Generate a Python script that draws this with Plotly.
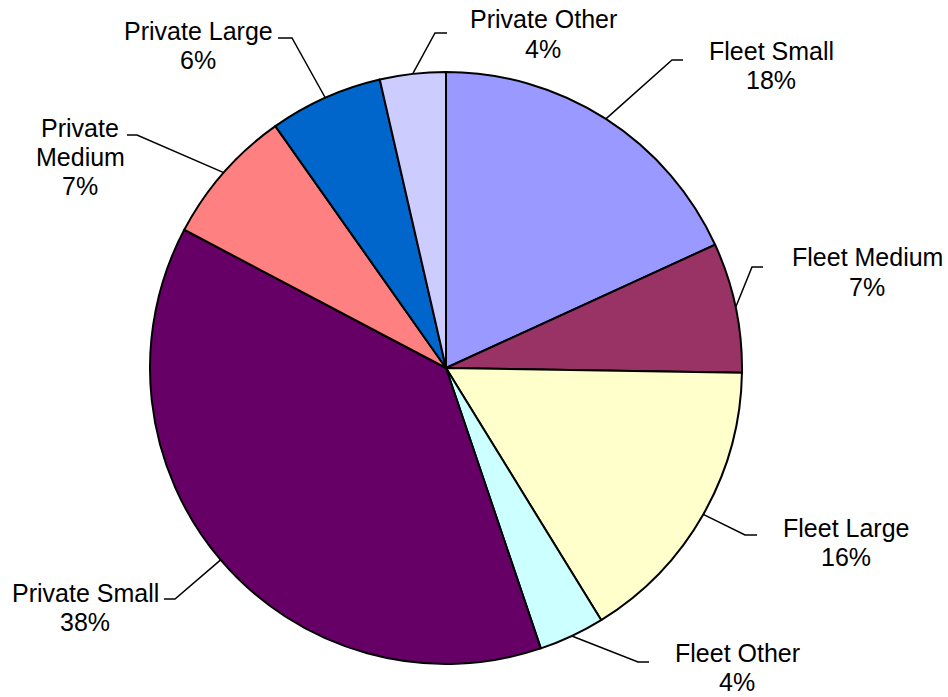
import math
import plotly.graph_objects as go

# ---- data ----
categories = ["Fleet Small", "Fleet Medium", "Fleet Large", "Fleet Other",
              "Private Small", "Private Medium", "Private Large", "Private Other"]
values = [18.2, 7.1, 16.0, 3.6, 38.0, 7.5, 6.2, 3.6]
label_names = ["Fleet Small", "Fleet Medium", "Fleet Large", "Fleet Other",
               "Private Small", "Private<br>Medium", "Private Large", "Private Other"]

# ---- style ----
colors = ["#9999FF", "#993366", "#FFFFCC", "#CCFFFF",
          "#660066", "#FF8080", "#0066CC", "#CCCCFF"]
W, H = 948, 697
CX, CY, R = 446, 368, 296
LINE_PITCH = 29
# label centre (px) and leader elbow (px): (lx, ly, ex, ey, hx)
label_layout = [
    (771, 66, 672, 60, 683),
    (867, 272, 752, 267, 763),
    (846, 542, 745, 535, 757),
    (737, 667, 638, 662, 649),
    (85, 607, 175, 599, 164),
    (80, 157, 137, 135, 127),
    (198, 46, 292, 38, 278),
    (543, 34, 435, 33, 447),
]
FONT = "Liberation Sans, Arial, sans-serif"

fig = go.Figure(go.Pie(
    labels=categories, values=values, sort=False, direction="clockwise",
    rotation=0, textinfo="none", hoverinfo="label+percent",
    marker=dict(colors=colors, line=dict(color="black", width=2)),
    domain=dict(x=[(CX - R) / W, (CX + R) / W], y=[(H - CY - R) / H, (H - CY + R) / H]),
))

total = sum(values)
cum = 0.0
shapes = []
annotations = []
for name, v, (lx, ly, ex, ey, hx) in zip(label_names, values, label_layout):
    mid = (cum + v / 2) / total * 2 * math.pi
    cum += v
    sx = CX + R * math.sin(mid)
    sy = CY - R * math.cos(mid)
    pts = [(sx, sy), (ex, ey), (hx, ey)]
    path = "M " + " L ".join(f"{px / W:.5f},{1 - py / H:.5f}" for px, py in pts)
    shapes.append(dict(type="path", xref="paper", yref="paper", path=path,
                       line=dict(color="black", width=1.5)))
    pct = round(v / total * 100)
    lines = name.split("<br>") + [f"{pct}%"]
    n = len(lines)
    for i, t in enumerate(lines):
        py = ly + (i - (n - 1) / 2) * LINE_PITCH
        annotations.append(dict(x=lx / W, y=1 - py / H, xref="paper", yref="paper",
                                text=t, showarrow=False,
                                xanchor="center", yanchor="middle", align="center",
                                font=dict(family=FONT, size=25, color="black")))

fig.update_layout(
    width=W, height=H, margin=dict(l=0, r=0, t=0, b=0),
    paper_bgcolor="white", plot_bgcolor="white", showlegend=False,
    shapes=shapes, annotations=annotations,
    font=dict(family=FONT),
)
fig.write_html("out.html", config={"displayModeBar": False},
               post_script="document.body.style.margin='0';")
